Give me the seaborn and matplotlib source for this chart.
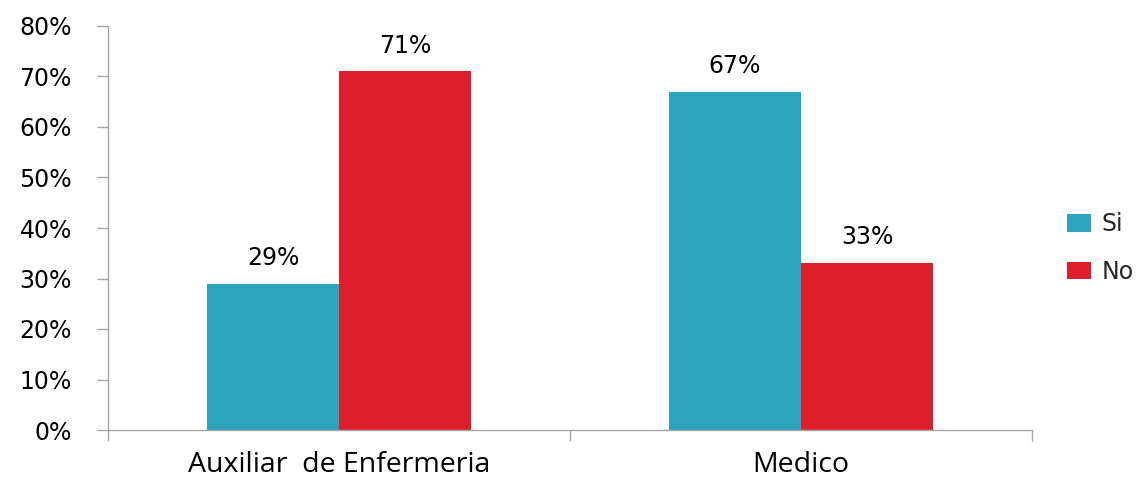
import matplotlib
matplotlib.use("Agg")
import matplotlib.pyplot as plt
import seaborn as sns
import pandas as pd
from matplotlib.ticker import FixedLocator, PercentFormatter
from matplotlib.patches import Patch

categories = ["Auxiliar  de Enfermeria", "Medico"]
series_names = ["Si", "No"]
si_values = [29, 67]
no_values = [71, 33]
y_ticks = [0, 10, 20, 30, 40, 50, 60, 70, 80]

colors = {"Si": "#2DA3BF", "No": "#DC1F2A"}

df = pd.DataFrame({
    "Cargo": categories * 2,
    "Respuesta": ["Si"] * len(categories) + ["No"] * len(categories),
    "Valor": si_values + no_values,
})

sns.set_theme(style="white")
plt.rcParams["font.family"] = ["DejaVu Sans"]

fig = plt.figure(figsize=(11.48, 4.79), dpi=100)
ax = fig.add_axes([108 / 1148, 1 - 430 / 479, (1032 - 108) / 1148, (430 - 26) / 479])

sns.barplot(data=df, x="Cargo", y="Valor", hue="Respuesta", hue_order=series_names,
            order=categories, palette=colors, width=0.571, saturation=1,
            edgecolor="none", linewidth=0, ax=ax, legend=False)

ax.set_xlim(-0.5, 1.5)
ax.set_ylim(0, 80)
ax.set_yticks(y_ticks)
ax.yaxis.set_major_formatter(PercentFormatter(decimals=0))
ax.set_xlabel("")
ax.set_ylabel("")

for side in ["top", "right"]:
    ax.spines[side].set_visible(False)
for side in ["left", "bottom"]:
    ax.spines[side].set_color("#A6A6A6")
    ax.spines[side].set_linewidth(1.0)

ax.tick_params(axis="y", which="major", left=True, length=8, width=1, color="#A6A6A6",
               labelsize=17, labelcolor="black", pad=18)
ax.tick_params(axis="x", which="major", bottom=False, labelsize=17, labelcolor="black", pad=9)
ax.xaxis.set_minor_locator(FixedLocator([-0.5, 0.5, 1.5]))
ax.tick_params(axis="x", which="minor", bottom=True, length=8, width=1, color="#A6A6A6")
for lbl in ax.get_xticklabels():
    lbl.set_family(["Open Sans", "DejaVu Sans"])
    lbl.set_fontsize(20.5)

for container in ax.containers:
    ax.bar_label(container, labels=[f"{v:.0f}%" for v in container.datavalues],
                 padding=10, fontsize=17, color="black")

handles = [Patch(facecolor=colors[s], edgecolor="none", label=s) for s in series_names]
fig.legend(handles=handles, loc="center left", bbox_to_anchor=(1046 / 1148, 1 - 248 / 479),
           frameon=False, fontsize=17, handlelength=1.0, handleheight=0.78,
           handletextpad=0.45, labelspacing=1.0)

fig.savefig("out.png", dpi=100, facecolor="white")
